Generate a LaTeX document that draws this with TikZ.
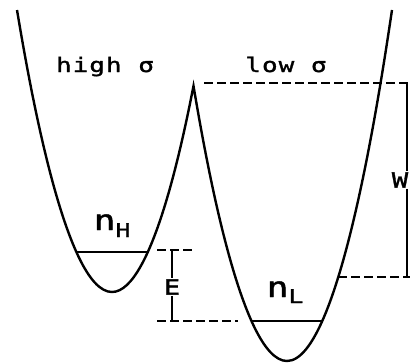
\documentclass[tikz,border=0pt]{standalone}
\usepackage{fontspec}
\newfontfamily\plotfont[FakeStretch=1.3, FakeBold=1.5]{DejaVu Sans Mono}
\newfontfamily\spacedfont[FakeStretch=1.3, FakeBold=1.5, LetterSpace=5]{DejaVu Sans Mono}
\usetikzlibrary{positioning}

\begin{document}
\begin{tikzpicture}[
  x=1pt, y=-1pt,
  font=\plotfont,
  well/.style={line width=2.4pt, line join=miter},
  level/.style={line width=1.4pt},
  guide/.style={line width=1.5pt, dash pattern=on 9pt off 4pt},
  bar/.style={line width=1.6pt},
  tag/.style={font=\plotfont\fontsize{21}{21}\selectfont, inner sep=1pt},
  phase/.style={font=\spacedfont\fontsize{20}{20}\selectfont, anchor=base, inner sep=0pt},
  occ/.style={anchor=base, inner sep=0pt}
]
\useasboundingbox (0,0) rectangle (410,364);

% the two wells
\coordinate (hightop) at (17,10);
\coordinate (highmin) at (112,292);
\coordinate (cusp) at (193.5,86);
\coordinate (lowmin) at (287,361);
\coordinate (lowtop) at (392,10);
\draw[well] (hightop) parabola bend (highmin) (cusp) parabola bend (lowmin) (lowtop);

\node[phase] (high) at (105,72) {high σ};
\node[phase] (low) at (286,72) {low σ};

% occupied levels
\coordinate (hleft) at (76.2,252);
\coordinate (hright) at (147.8,252);
\draw[level] (hleft) -- (hright);
\coordinate (lleft) at (251.3,321);
\coordinate (lright) at (322.5,321);
\draw[level] (lleft) -- (lright);
\node[occ] (nH) at (112,230) {\fontsize{28}{28}\selectfont n\fontsize{19}{19}\selectfont\raisebox{-7pt}{H}};
\node[occ] (nL) at (285,297) {\fontsize{28}{28}\selectfont n\fontsize{19}{19}\selectfont\raisebox{-6pt}{L}};

% E bracket
\coordinate (etopl) at (157,250);
\coordinate (etopr) at (195,250);
\coordinate (ebotl) at (157,321);
\coordinate (ebotr) at (238,321);
\coordinate (etop) at (172,250);
\coordinate (ebot) at (172,321);
\draw[guide] (etopl) -- (etopr);
\draw[guide] (ebotl) -- (ebotr);
\node[tag] (E) at (172,287) {E};
\draw[bar] (etop) -- (E.north);
\draw[bar] (E.south) -- (ebot);

% W bracket
\coordinate (wdashl) at (204,83);
\coordinate (wdashr) at (412,83);
\coordinate (wlowl) at (338.4,277);
\coordinate (wlowr) at (412,277);
\coordinate (wtop) at (407,83);
\coordinate (wbot) at (407,277);
\draw[guide] (wdashl) -- (wdashr);
\draw[guide] (wlowl) -- (wlowr);
\node[tag] (W) at (400,180) {W};
\draw[bar] (wtop) -- (wtop |- W.north);
\draw[bar] (wbot |- W.south) -- (wbot);
\end{tikzpicture}
\end{document}
